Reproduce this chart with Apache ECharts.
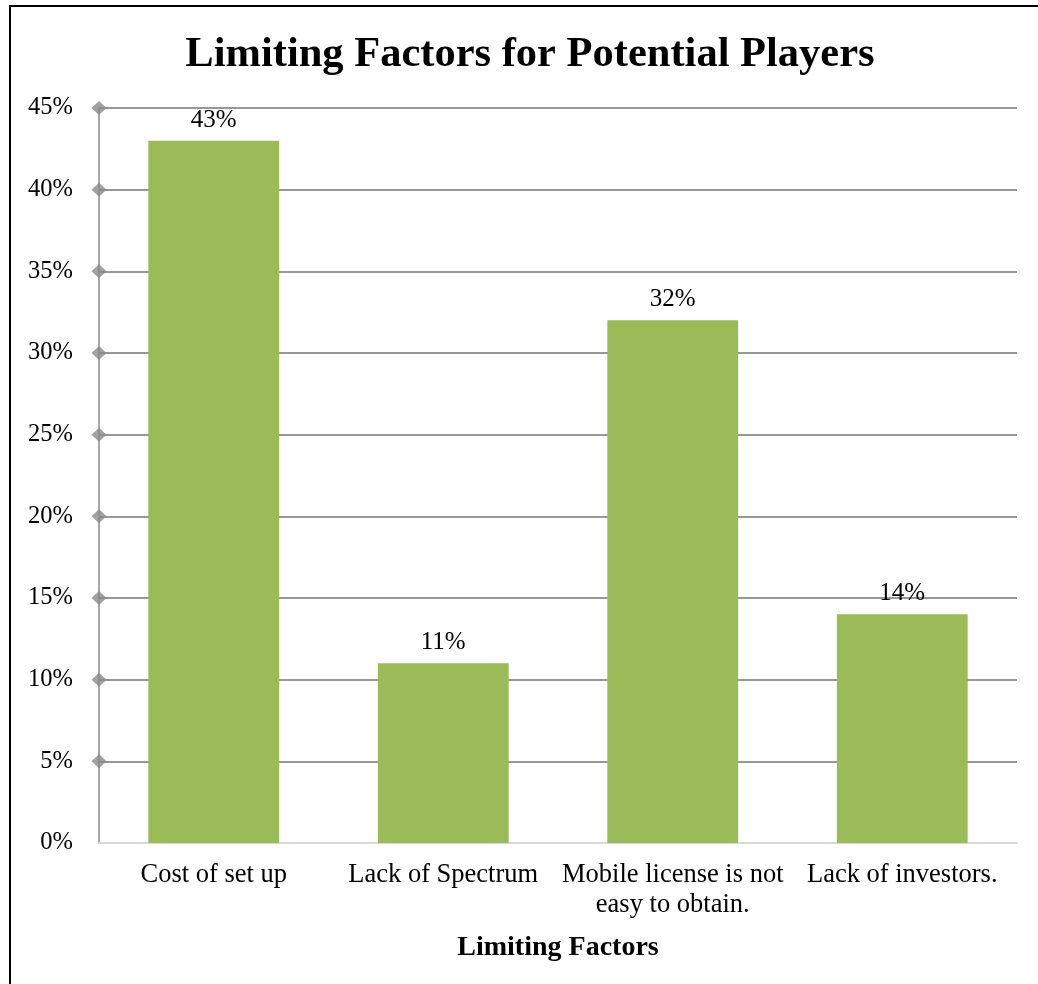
<!DOCTYPE html>
<html>
<head>
<meta charset="utf-8">
<script src="https://cdn.jsdelivr.net/npm/echarts@6/dist/echarts.min.js"></script>
<style>
  html, body { margin: 0; padding: 0; background: #fff; }
  #chart { width: 1038px; height: 984px; }
</style>
</head>
<body>
<div id="chart"></div>
<script>
// Share of respondents naming each factor (percent)
const categories = [
  'Cost of set up',
  'Lack of Spectrum',
  'Mobile license is not\neasy to obtain.',
  'Lack of investors.'
];
const shares = [43, 11, 32, 14];
// Y-axis tick values (percent) that carry a diamond marker
const markerTicks = [5, 10, 15, 20, 25, 30, 35, 40, 45];

const serif = '"Liberation Serif", "Times New Roman", serif';
const chart = echarts.init(document.getElementById('chart'));

chart.setOption({
  backgroundColor: '#ffffff',
  animation: false,
  title: {
    text: 'Limiting Factors for Potential Players',
    left: 525,
    textAlign: 'center',
    top: 29,
    textStyle: { fontFamily: serif, fontSize: 42.5, fontWeight: 'bold', color: '#000' }
  },
  graphic: [{
    type: 'rect',
    shape: { x: 10, y: 6, width: 1200, height: 1200 },
    style: { fill: 'none', stroke: '#000', lineWidth: 2 },
    z: 100
  }],
  grid: { left: 99, right: 21, top: 108, bottom: 141 },
  xAxis: [{
    type: 'category',
    data: categories,
    name: 'Limiting Factors',
    nameLocation: 'middle',
    nameGap: 91,
    nameTextStyle: { fontFamily: serif, fontSize: 28, fontWeight: 'bold', color: '#000' },
    axisLine: { lineStyle: { color: '#d9d9d9', width: 2 } },
    axisTick: { show: false },
    axisLabel: {
      fontFamily: serif, fontSize: 26.5, color: '#000',
      margin: 17, lineHeight: 30, interval: 0
    }
  }, {
    type: 'value', min: 0, max: 1, show: false
  }],
  yAxis: {
    type: 'value',
    min: 0, max: 45, interval: 5,
    axisLine: { show: true, lineStyle: { color: '#a6a6a6', width: 2 } },
    axisTick: { show: false },
    splitLine: { lineStyle: { color: '#979797', width: 2 } },
    axisLabel: {
      fontFamily: serif, fontSize: 24.5, color: '#000', margin: 26,
      padding: [3, 0, 0, 0],
      formatter: v => v + '%'
    }
  },
  series: [{
    type: 'bar',
    data: shares,
    barWidth: '57%',
    itemStyle: { color: '#9bbb59' },
    label: {
      show: true, position: 'top', distance: 8,
      fontFamily: serif, fontSize: 25, color: '#000',
      formatter: p => p.value + '%'
    },
    z: 2
  }, {
    type: 'scatter',
    xAxisIndex: 1,
    data: markerTicks.map(v => [0, v]),
    symbol: 'diamond',
    symbolSize: [15, 14],
    clip: false,
    itemStyle: { color: '#898989' },
    silent: true,
    z: 5
  }]
});
</script>
</body>
</html>
